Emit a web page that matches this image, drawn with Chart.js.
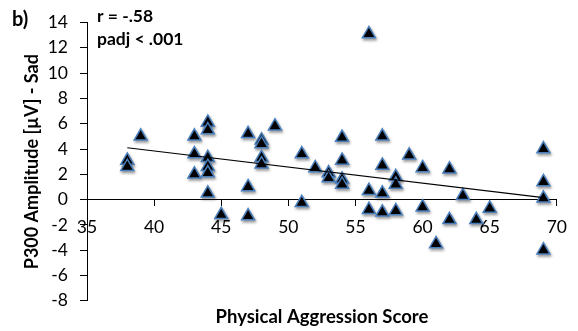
<!DOCTYPE html>
<html>
<head>
<meta charset="utf-8">
<script src="https://cdn.jsdelivr.net/npm/chart.js@4.4.0/dist/chart.umd.min.js"></script>
<style>
  html, body { margin: 0; padding: 0; background: #fff; }
  #wrap { width: 578px; height: 331px; }
</style>
</head>
<body>
<div id="wrap"><canvas id="scatterChart"></canvas></div>
<script>
// values
const scoreX = [38, 38, 39, 43, 43, 43, 44, 44, 44, 44, 44, 44, 45, 47, 47, 47, 48, 48, 48, 48, 49,
  51, 51, 52, 53, 53, 54, 54, 54, 54, 56, 56, 56, 57, 57, 57, 57, 58, 58, 58, 59, 60, 60,
  61, 62, 62, 63, 64, 65, 69, 69, 69, 69];
const p300Y = [3.1, 2.6, 5.0, 5.0, 3.6, 2.0, 6.1, 5.5, 3.3, 2.6, 2.1, 0.5, -1.2, 5.2, 1.0, -1.3, 4.7, 4.4, 3.3, 2.8, 5.8,
  3.6, -0.25, 2.5, 2.1, 1.7, 4.9, 3.1, 1.6, 1.2, 13.1, 0.7, -0.8, 5.0, 2.7, 0.5, -1.0, 1.8, 1.2, -0.9, 3.5, 2.5, -0.6,
  -3.5, 2.4, -1.6, 0.3, -1.6, -0.7, 4.0, 1.4, 0.1, -4.0];
const trendX = [38, 69];
const trendY = [4.1, 0.15];
const xTicks = [35, 40, 45, 50, 55, 60, 65, 70];
const yTicks = [-8, -6, -4, -2, 0, 2, 4, 6, 8, 10, 12, 14];
const statLines = ['r = -.58', 'padj < .001'];
const panelLabel = 'b)';

const points = scoreX.map((x, i) => ({ x: x, y: p300Y[i] }));
const trend = trendX.map((x, i) => ({ x: x, y: trendY[i] }));

// soft shadow under the markers
const markerShadow = {
  id: 'markerShadow',
  beforeDatasetDraw(chart, args) {
    if (args.index !== 1) return;
    const ctx = chart.ctx;
    ctx.save();
    ctx.shadowColor = 'rgba(0,0,0,0.35)';
    ctx.shadowBlur = 3;
    ctx.shadowOffsetX = 1;
    ctx.shadowOffsetY = 2;
  },
  afterDatasetDraw(chart, args) {
    if (args.index === 1) chart.ctx.restore();
  }
};

// panel letter and stats text
const notes = {
  id: 'notes',
  afterDraw(chart) {
    const ctx = chart.ctx;
    ctx.save();
    ctx.fillStyle = '#000';
    ctx.textAlign = 'left';
    ctx.textBaseline = 'alphabetic';
    ctx.font = 'bold 20px Lato';
    ctx.fillText(panelLabel, 12, 26);
    ctx.font = 'bold 17.5px Lato';
    ctx.fillText(statLines[0], 97, 22);
    ctx.fillText(statLines[1], 97, 45);
    ctx.restore();
  }
};

const ctx = document.getElementById('scatterChart').getContext('2d');
new Chart(ctx, {
  type: 'scatter',
  data: {
    datasets: [{
      type: 'line',
      data: trend,
      borderColor: '#000',
      borderWidth: 1.2,
      pointRadius: 0,
      fill: false
    }, {
      data: points,
      pointStyle: 'triangle',
      pointRadius: 7.5,
      backgroundColor: '#000',
      borderColor: '#4a7ebb',
      borderWidth: 1.5
    }]
  },
  options: {
    responsive: true,
    maintainAspectRatio: false,
    animation: false,
    layout: { padding: { top: 15, right: 17, left: 0, bottom: 0 } },
    plugins: {
      legend: { display: false },
      tooltip: { enabled: false },
      title: {
        display: true,
        text: 'Physical Aggression Score',
        position: 'bottom',
        fullSize: false,
        color: '#000',
        font: { family: 'Lato', size: 18.5, weight: 'bold' },
        padding: { top: 5, bottom: 3 }
      }
    },
    scales: {
      x: {
        type: 'linear',
        position: { y: 0 },
        min: 35,
        max: 70,
        afterBuildTicks: (scale) => { scale.ticks = xTicks.map(v => ({ value: v })); },
        ticks: {
          color: '#000',
          font: { family: 'Lato', size: 17.5 },
          padding: 11,
          maxRotation: 0
        },
        grid: { drawOnChartArea: false, tickLength: 6, color: '#000' },
        border: { color: '#000', width: 1 }
      },
      y: {
        min: -8,
        max: 14,
        afterBuildTicks: (scale) => { scale.ticks = yTicks.map(v => ({ value: v })); },
        afterFit: (scale) => { scale.width = 87; },
        ticks: {
          color: '#000',
          font: { family: 'Lato', size: 17.5 },
          padding: 12
        },
        grid: { drawOnChartArea: false, tickLength: 7, color: '#000' },
        border: { color: '#000', width: 1 },
        title: {
          display: true,
          text: 'P300 Amplitude [µV] - Sad',
          color: '#000',
          font: { family: 'Lato', size: 18, weight: 'bold' },
          padding: { top: 21, bottom: 0 }
        }
      }
    }
  },
  plugins: [markerShadow, notes]
});
</script>
</body>
</html>
